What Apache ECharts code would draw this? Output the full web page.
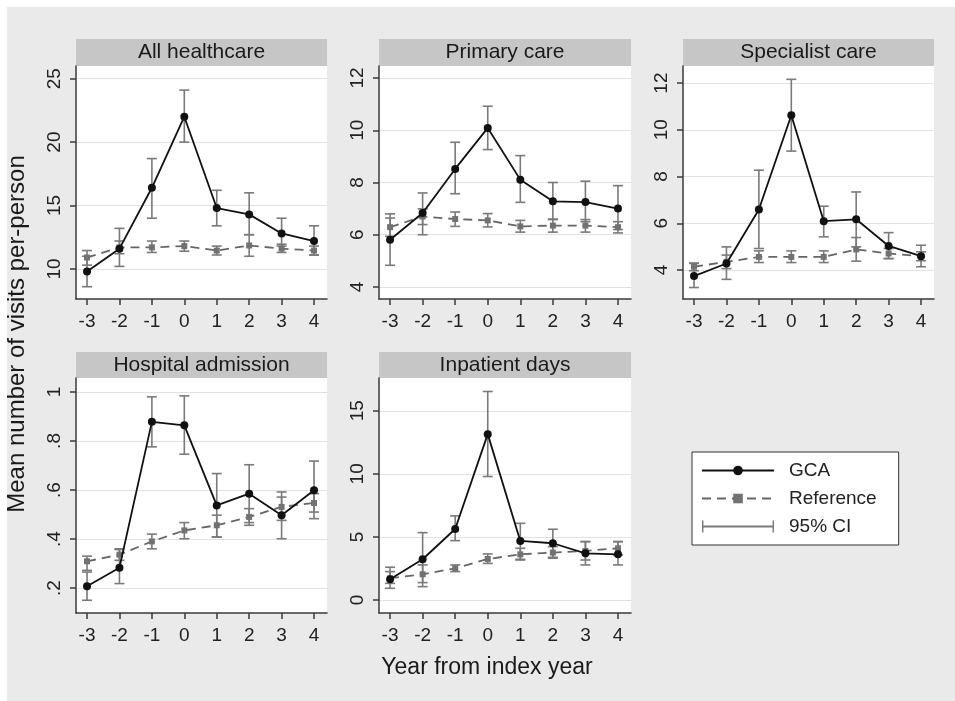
<!DOCTYPE html>
<html>
<head>
<meta charset="utf-8">
<script src="https://cdn.jsdelivr.net/npm/echarts@6/dist/echarts.min.js"></script>
<style>
  html, body { margin: 0; padding: 0; background: #fff; }
  #chart { width: 955px; height: 701px; }
</style>
</head>
<body>
<div id="chart"></div>
<script>
const years = [-3, -2, -1, 0, 1, 2, 3, 4];

// All healthcare
const allGca = [9.8, 11.6, 16.4, 22.0, 14.8, 14.3, 12.8, 12.2];
const allGcaLo = [8.6, 10.2, 14.0, 20.0, 13.4, 12.7, 11.8, 11.1];
const allGcaHi = [11.0, 13.2, 18.7, 24.1, 16.2, 16.0, 14.0, 13.4];
const allRef = [10.9, 11.7, 11.7, 11.8, 11.45, 11.85, 11.6, 11.45];
const allRefLo = [10.3, 11.2, 11.3, 11.4, 11.1, 11.0, 11.3, 11.1];
const allRefHi = [11.45, 12.2, 12.2, 12.2, 11.8, 12.7, 11.95, 11.8];
const allTicks = [10, 15, 20, 25];

// Primary care
const primGca = [5.81, 6.83, 8.52, 10.09, 8.11, 7.28, 7.25, 7.0];
const primGcaLo = [4.83, 6.0, 7.57, 9.26, 7.24, 6.6, 6.5, 6.2];
const primGcaHi = [6.8, 7.6, 9.54, 10.92, 9.03, 8.0, 8.05, 7.88];
const primRef = [6.29, 6.7, 6.6, 6.55, 6.32, 6.35, 6.35, 6.29];
const primRefLo = [5.94, 6.39, 6.32, 6.3, 6.1, 6.1, 6.1, 6.07];
const primRefHi = [6.64, 6.99, 6.87, 6.81, 6.55, 6.58, 6.58, 6.5];
const primTicks = [4, 6, 8, 10, 12];

// Specialist care
const specGca = [3.74, 4.28, 6.59, 10.62, 6.09, 6.17, 5.03, 4.59];
const specGcaLo = [3.25, 3.6, 4.92, 9.09, 5.42, 4.99, 4.49, 4.14];
const specGcaHi = [4.28, 4.99, 8.27, 12.16, 6.73, 7.34, 5.6, 5.06];
const specRef = [4.14, 4.35, 4.56, 4.56, 4.56, 4.88, 4.71, 4.59];
const specRefLo = [3.97, 4.06, 4.32, 4.32, 4.32, 4.38, 4.49, 4.4];
const specRefHi = [4.3, 4.64, 4.82, 4.82, 4.82, 5.39, 4.92, 4.78];
const specTicks = [4, 6, 8, 10, 12];

// Hospital admission
const hospGca = [0.207, 0.283, 0.878, 0.864, 0.537, 0.585, 0.497, 0.599];
const hospGcaLo = [0.15, 0.218, 0.776, 0.746, 0.408, 0.467, 0.401, 0.483];
const hospGcaHi = [0.265, 0.36, 0.98, 0.984, 0.667, 0.703, 0.592, 0.718];
const hospRef = [0.309, 0.336, 0.39, 0.435, 0.456, 0.49, 0.531, 0.547];
const hospRefLo = [0.272, 0.313, 0.36, 0.401, 0.408, 0.456, 0.476, 0.51];
const hospRefHi = [0.33, 0.357, 0.42, 0.467, 0.497, 0.524, 0.571, 0.585];
const hospTicks = [0.2, 0.4, 0.6, 0.8, 1];

// Inpatient days
const inpGca = [1.64, 3.23, 5.63, 13.15, 4.68, 4.5, 3.7, 3.62];
const inpGcaLo = [0.93, 1.06, 4.71, 9.79, 3.17, 3.39, 2.78, 2.78];
const inpGcaHi = [2.6, 5.34, 6.67, 16.53, 6.08, 5.61, 4.63, 4.63];
const inpRef = [1.72, 2.04, 2.51, 3.25, 3.62, 3.76, 3.89, 4.1];
const inpRefLo = [1.32, 1.38, 2.25, 2.9, 3.23, 3.31, 3.17, 3.57];
const inpRefHi = [2.25, 2.78, 2.78, 3.65, 4.1, 4.23, 4.63, 4.63];
const inpTicks = [0, 5, 10, 15];

const FONT = "'Liberation Sans', Arial, sans-serif";

const panels = [
  { title: "All healthcare", left: 76, top: 66, width: 251, height: 233, yMin: 7.63, yMax: 26.0, ticks: allTicks,
    gca: allGca, gcaLo: allGcaLo, gcaHi: allGcaHi, ref: allRef, refLo: allRefLo, refHi: allRefHi },
  { title: "Primary care", left: 379, top: 66, width: 252, height: 233, yMin: 3.54, yMax: 12.46, ticks: primTicks,
    gca: primGca, gcaLo: primGcaLo, gcaHi: primGcaHi, ref: primRef, refLo: primRefLo, refHi: primRefHi },
  { title: "Specialist care", left: 683, top: 66, width: 251, height: 233, yMin: 2.76, yMax: 12.73, ticks: specTicks,
    gca: specGca, gcaLo: specGcaLo, gcaHi: specGcaHi, ref: specRef, refLo: specRefLo, refHi: specRefHi },
  { title: "Hospital admission", left: 76, top: 378, width: 251, height: 235, yMin: 0.098, yMax: 1.057, ticks: hospTicks,
    gca: hospGca, gcaLo: hospGcaLo, gcaHi: hospGcaHi, ref: hospRef, refLo: hospRefLo, refHi: hospRefHi,
    fmt: (v) => (v === 1 ? "1" : String(v).replace(/^0/, "")) },
  { title: "Inpatient days", left: 379, top: 378, width: 252, height: 235, yMin: -1.03, yMax: 17.6, ticks: inpTicks,
    gca: inpGca, gcaLo: inpGcaLo, gcaHi: inpGcaHi, ref: inpRef, refLo: inpRefLo, refHi: inpRefHi },
];

const axisLineStyle = { color: "#3a3a3a", width: 1.5 };
const ciColor = "#7a7a7a";

const renderCI = (params, api) => {
  const x = api.value(0);
  const top = api.coord([x, api.value(2)]);
  const bot = api.coord([x, api.value(1)]);
  const w = 5;
  const style = { stroke: ciColor, lineWidth: 1.6 };
  return {
    type: "group",
    children: [
      { type: "line", shape: { x1: top[0], y1: top[1], x2: bot[0], y2: bot[1] }, style },
      { type: "line", shape: { x1: top[0] - w, y1: top[1], x2: top[0] + w, y2: top[1] }, style },
      { type: "line", shape: { x1: bot[0] - w, y1: bot[1], x2: bot[0] + w, y2: bot[1] }, style },
    ],
  };
};

const grid = [];
const xAxis = [];
const yAxis = [];
const series = [];
const graphic = [
  { type: "rect", shape: { x: 7, y: 7, width: 948, height: 694 }, style: { fill: "#eaeaea" }, z: -10 },
];

panels.forEach((p, i) => {
  grid.push({
    left: p.left, top: p.top, width: p.width, height: p.height,
    show: true, backgroundColor: "#fff", borderWidth: 0,
  });
  xAxis.push({
    type: "value", gridIndex: i, min: -3.34, max: 4.4,
    axisLine: { onZero: false, lineStyle: axisLineStyle },
    axisTick: { customValues: years, length: 6, lineStyle: axisLineStyle },
    axisLabel: { customValues: years, margin: 13, fontSize: 19, color: "#222", fontFamily: FONT },
    splitLine: { show: false },
  });
  yAxis.push({
    type: "value", gridIndex: i, min: p.yMin, max: p.yMax,
    axisLine: { show: true, onZero: false, lineStyle: axisLineStyle },
    axisTick: { show: true, customValues: p.ticks, length: 6, lineStyle: axisLineStyle },
    axisLabel: {
      customValues: p.ticks, rotate: 90, margin: 12, fontSize: 19, color: "#222", fontFamily: FONT,
      formatter: p.fmt || ((v) => String(v)),
    },
    splitLine: { show: false },
  });

  series.push({
    name: "95% CI", type: "custom", xAxisIndex: i, yAxisIndex: i, z: 1,
    itemStyle: { color: ciColor },
    renderItem: renderCI,
    encode: { x: 0, y: [1, 2] },
    data: years.map((y, k) => [y, p.refLo[k], p.refHi[k]]),
  });
  series.push({
    name: "95% CI", type: "custom", xAxisIndex: i, yAxisIndex: i, z: 1,
    itemStyle: { color: ciColor },
    renderItem: renderCI,
    encode: { x: 0, y: [1, 2] },
    data: years.map((y, k) => [y, p.gcaLo[k], p.gcaHi[k]]),
  });
  series.push({
    name: "Reference", type: "line", xAxisIndex: i, yAxisIndex: i, z: 2,
    symbol: "rect", symbolSize: 6, showAllSymbol: true,
    itemStyle: { color: "#727272" },
    lineStyle: { color: "#666", width: 1.8, type: [9, 6] },
    data: years.map((y, k) => [y, p.ref[k]]),
    markLine: {
      silent: true, symbol: "none", label: { show: false }, animation: false,
      lineStyle: { color: "#e2e2e2", width: 1, type: "solid" },
      data: p.ticks.map((t) => ({ yAxis: t })),
      z: 0,
    },
  });
  series.push({
    name: "GCA", type: "line", xAxisIndex: i, yAxisIndex: i, z: 3,
    symbol: "circle", symbolSize: 8, showAllSymbol: true,
    itemStyle: { color: "#111" },
    lineStyle: { color: "#111", width: 1.8 },
    data: years.map((y, k) => [y, p.gca[k]]),
  });

  const stripY = p.top === 66 ? 39 : 352;
  graphic.push({
    type: "rect",
    shape: { x: p.left, y: stripY, width: p.width, height: p.top - stripY },
    style: { fill: "#c6c6c6" },
  });
  graphic.push({
    type: "text",
    x: p.left + p.width / 2, y: (stripY + p.top) / 2,
    style: { text: p.title, fill: "#1a1a1a", font: "21px " + FONT, textAlign: "center", textVerticalAlign: "middle" },
  });
});

graphic.push({
  type: "text", x: 17, y: 334, rotation: Math.PI / 2,
  style: { text: "Mean number of visits per-person", fill: "#1a1a1a", font: "24px " + FONT, textAlign: "center", textVerticalAlign: "middle" },
});
graphic.push({
  type: "text", x: 487, y: 668,
  style: { text: "Year from index year", fill: "#1a1a1a", font: "23px " + FONT, textAlign: "center", textVerticalAlign: "middle" },
});

const chart = echarts.init(document.getElementById("chart"));
chart.setOption({
  backgroundColor: "#fff",
  animation: false,
  grid,
  xAxis,
  yAxis,
  series,
  graphic,
  legend: {
    left: 692, top: 452, orient: "vertical",
    backgroundColor: "#fff", borderColor: "#333", borderWidth: 1,
    padding: [9, 22, 9, 9], itemGap: 9, itemWidth: 72, itemHeight: 12,
    symbolKeepAspect: false,
    textStyle: { fontSize: 19, color: "#222", fontFamily: FONT, padding: [0, 0, 0, 10] },
    data: [
      { name: "GCA" },
      { name: "Reference" },
      { name: "95% CI", icon: "path://M0,0h2v12h-2z M0,5h100v2h-100z M98,0h2v12h-2z", itemStyle: { color: ciColor } },
    ],
  },
});
</script>
</body>
</html>
